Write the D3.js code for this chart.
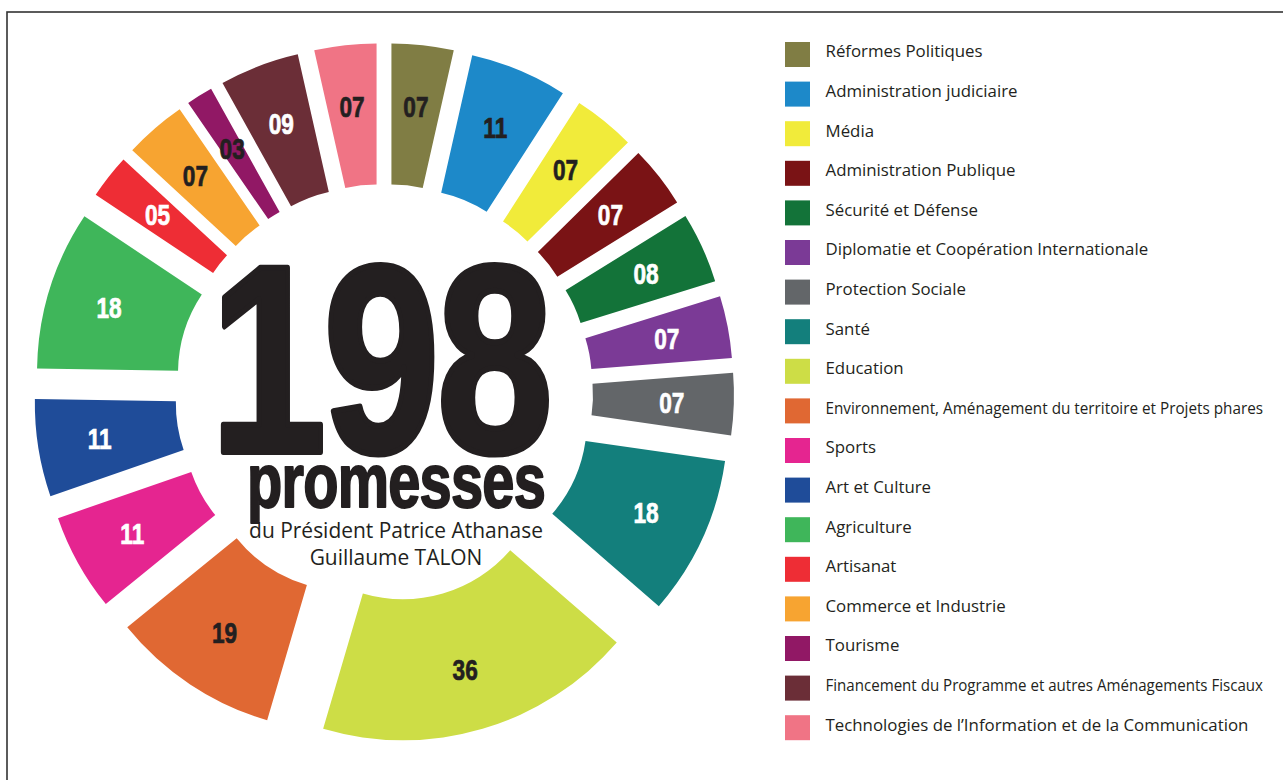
<!DOCTYPE html>
<html lang="fr">
<head>
<meta charset="utf-8">
<title>198 promesses</title>
<script src="https://cdn.jsdelivr.net/npm/d3@7"></script>
<style>
  html, body { margin: 0; padding: 0; background: #ffffff; }
  svg { display: block; }
</style>
</head>
<body>
<svg id="chart" width="1283" height="780"></svg>
<script>
// Promesses par secteur, dans l'ordre des aiguilles d'une montre depuis midi
const categories = [
  "Réformes Politiques",
  "Administration judiciaire",
  "Média",
  "Administration Publique",
  "Sécurité et Défense",
  "Diplomatie et Coopération Internationale",
  "Protection Sociale",
  "Santé",
  "Education",
  "Environnement, Aménagement du territoire et Projets phares",
  "Sports",
  "Art et Culture",
  "Agriculture",
  "Artisanat",
  "Commerce et Industrie",
  "Tourisme",
  "Financement du Programme et autres Aménagements Fiscaux",
  "Technologies de l’Information et de la Communication"
];
const promesses = [7, 11, 7, 7, 8, 7, 7, 18, 36, 19, 11, 11, 18, 5, 7, 3, 9, 7];
const palette = [
  "#807d44", "#1d89c9", "#f1eb3a", "#7a1315", "#137339", "#7b3a96",
  "#636669", "#137f7c", "#cddd46", "#e06833", "#e52590", "#1f4c99",
  "#3fb65a", "#ee2d35", "#f7a431", "#911865", "#6b2e37", "#f07485"
];
// Secteurs dont le nombre est écrit en noir plutôt qu'en blanc
const darkLabels = [
  "Réformes Politiques", "Administration judiciaire", "Média", "Education",
  "Environnement, Aménagement du territoire et Projets phares",
  "Commerce et Industrie", "Tourisme",
  "Technologies de l’Information et de la Communication"
];
const subtitle = ["du Président Patrice Athanase", "Guillaume TALON"];

const INK = "#231f20";
const data = categories.map((c, i) => ({ category: c, value: promesses[i] }));
const color = d3.scaleOrdinal().domain(categories).range(palette);

const svg = d3.select("#chart");

// Cadre fin (seuls les bords haut et gauche tombent dans la page)
svg.append("rect")
  .attr("x", 7).attr("y", 12)
  .attr("width", 1400).attr("height", 900)
  .attr("fill", "none").attr("stroke", "#333333").attr("stroke-width", 1.6);

// ---- Couronne éclatée ----
const cx = 384, cy = 393;
const inner = 142, outer = 283, burst = 67, labelR = 221;

const pie = d3.pie().sort(null).value(d => d.value)
  .startAngle(0).endAngle(2 * Math.PI);
const arc = d3.arc().innerRadius(inner).outerRadius(outer);
const arcs = pie(data);

const ring = svg.append("g").attr("transform", `translate(${cx},${cy})`);

const slice = ring.selectAll("g.slice").data(arcs).join("g")
  .attr("class", "slice")
  .attr("transform", d => {
    const a = (d.startAngle + d.endAngle) / 2;
    return `translate(${burst * Math.sin(a)},${-burst * Math.cos(a)})`;
  });

slice.append("path")
  .attr("d", arc)
  .attr("fill", d => color(d.data.category));

const fmt = d3.format("02d");
slice.append("text")
  .attr("transform", d => {
    const a = (d.startAngle + d.endAngle) / 2;
    return `translate(${labelR * Math.sin(a)},${-labelR * Math.cos(a) + 10.5}) scale(0.78,1)`;
  })
  .attr("text-anchor", "middle")
  .attr("font-family", "'Liberation Sans', Arial, sans-serif")
  .attr("font-weight", 700)
  .attr("font-size", 29)
  .attr("fill", d => darkLabels.includes(d.data.category) ? INK : "#ffffff")
  .attr("stroke", d => darkLabels.includes(d.data.category) ? INK : "#ffffff")
  .attr("stroke-width", 0.7)
  .text(d => fmt(d.data.value));

// ---- Titre central ----
const total = d3.sum(promesses);

const big = svg.append("text")
  .attr("font-family", "'Liberation Sans', Arial, sans-serif")
  .attr("font-weight", 700)
  .attr("font-size", 268)
  .attr("fill", INK)
  .attr("stroke", INK).attr("stroke-width", 6)
  .attr("stroke-linejoin", "round")
  .attr("letter-spacing", -4)
  .attr("text-anchor", "middle")
  .text(total);
const bigW = big.node().getComputedTextLength();
big.attr("transform", `translate(380,452) scale(${340 / bigW},1)`);

const prom = svg.append("text")
  .attr("font-family", "'Liberation Sans', Arial, sans-serif")
  .attr("font-weight", 700)
  .attr("font-size", 76)
  .attr("fill", INK)
  .attr("stroke", INK).attr("stroke-width", 2)
  .attr("stroke-linejoin", "round")
  .attr("letter-spacing", -1)
  .attr("text-anchor", "middle")
  .text("promesses");
const promW = prom.node().getComputedTextLength();
prom.attr("transform", `translate(396,507) scale(${298 / promW},1)`);

const sub = svg.append("g")
  .attr("font-family", "'Open Sans', Lato, sans-serif")
  .attr("font-size", 22)
  .attr("fill", INK)
  .attr("text-anchor", "middle");
const subLines = sub.selectAll("text").data(subtitle).join("text").text(d => d);
const subW = subLines.nodes()[0].getComputedTextLength();
const subS = 294 / subW;
subLines.attr("transform", (d, i) => `translate(396,${538 + i * 27}) scale(${subS},1)`);

// ---- Légende ----
const y = d3.scaleBand().domain(categories).range([42, 42 + categories.length * 39.6]);
const legend = svg.append("g");
const row = legend.selectAll("g").data(categories).join("g")
  .attr("transform", d => `translate(785,${y(d)})`);
row.append("rect")
  .attr("width", 25).attr("height", 25)
  .attr("fill", d => color(d));
const labels = row.append("text")
  .attr("font-family", "'Open Sans', Lato, sans-serif")
  .attr("font-size", 16.5)
  .attr("fill", INK)
  .text(d => d);
// largeur courante calée sur une ligne moyenne ; les plus longues sont resserrées
const refNode = labels.filter(d => d === "Diplomatie et Coopération Internationale").node();
const baseS = 323 / refNode.getComputedTextLength();
const maxW = 438;
labels.attr("transform", function () {
  const w = this.getComputedTextLength();
  const s = Math.min(baseS, maxW / w);
  return `translate(40.5,15.3) scale(${s},1)`;
});
</script>
</body>
</html>
